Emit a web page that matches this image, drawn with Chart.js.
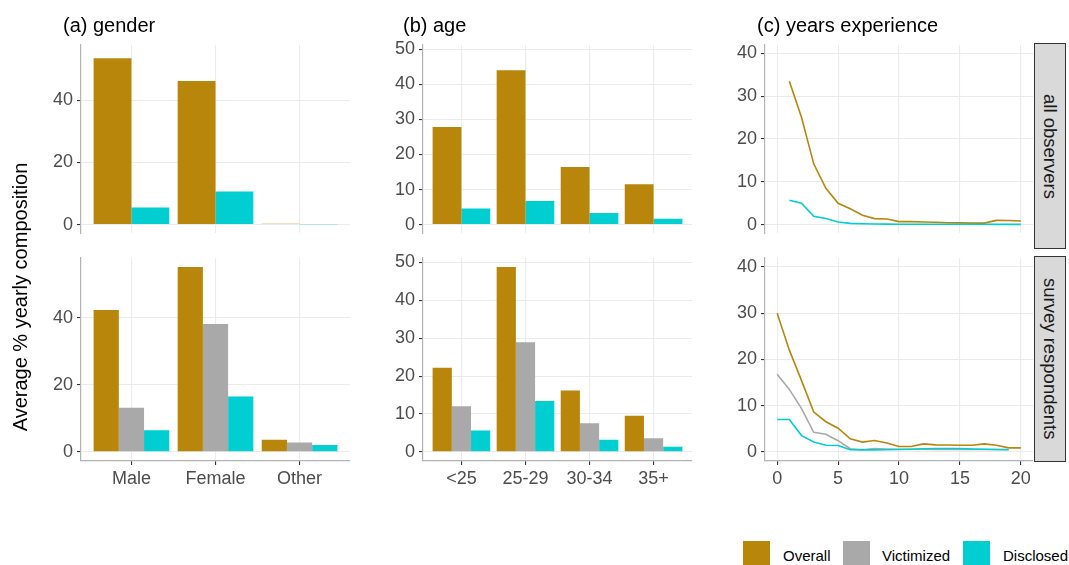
<!DOCTYPE html>
<html><head><meta charset="utf-8">
<script src="https://cdn.jsdelivr.net/npm/chart.js@4/dist/chart.umd.min.js"></script>
<style>
body{margin:0;background:#fff;width:1069px;height:565px;overflow:hidden;position:relative;font-family:"Liberation Sans",Arial,sans-serif;}
canvas{position:absolute;}
.title{position:absolute;white-space:nowrap;color:#000;font-size:20px;line-height:24px;}
.strip{position:absolute;background:#D9D9D9;border:1px solid #333333;display:flex;align-items:center;justify-content:center;}
.strip span{writing-mode:vertical-rl;font-size:18.5px;color:#1A1A1A;white-space:nowrap;}
.ytitle{position:absolute;width:400px;height:24px;line-height:24px;text-align:center;font-size:20px;color:#000;transform:rotate(-90deg);white-space:nowrap;}
.lkey{position:absolute;width:27px;height:27px;}
.ltxt{position:absolute;font-size:15px;line-height:18px;color:#000;white-space:nowrap;}
</style></head><body>

<canvas id="a1"></canvas><canvas id="a2"></canvas>
<canvas id="b1"></canvas><canvas id="b2"></canvas>
<canvas id="c1"></canvas><canvas id="c2"></canvas>

<div class="title" style="left:63px;top:13px;">(a) gender</div>
<div class="title" style="left:403px;top:13px;">(b) age</div>
<div class="title" style="left:757px;top:13px;">(c) years experience</div>
<div class="ytitle" style="left:-180px;top:285px;">Average % yearly composition</div>
<div class="strip" style="left:1034px;top:43px;width:30px;height:204px;"><span>all observers</span></div>
<div class="strip" style="left:1034px;top:256px;width:30px;height:204px;"><span>survey respondents</span></div>

<div class="lkey" style="left:743px;top:541px;background:#B8860B;"></div>
<div class="ltxt" style="left:783px;top:547px;">Overall</div>
<div class="lkey" style="left:843px;top:541px;background:#A9A9A9;"></div>
<div class="ltxt" style="left:882px;top:547px;">Victimized</div>
<div class="lkey" style="left:963px;top:541px;background:#00CED1;"></div>
<div class="ltxt" style="left:1003px;top:547px;">Disclosed</div>

<script>
// ---------- data ----------
const seriesNames = ['Overall', 'Victimized', 'Disclosed'];

const genderCats = ['Male', 'Female', 'Other'];
const genderObsOverall = [53.5, 46.2, 0.3];
const genderObsDisclosed = [5.5, 10.7, 0.1];
const genderSurvOverall = [42.3, 55.1, 3.6];
const genderSurvVictimized = [13.1, 38.1, 2.8];
const genderSurvDisclosed = [6.4, 16.5, 2.0];
const genderTicks = [0, 20, 40];

const ageCats = ['<25', '25-29', '30-34', '35+'];
const ageObsOverall = [27.8, 44.0, 16.4, 11.5];
const ageObsDisclosed = [4.6, 6.7, 3.3, 1.7];
const ageSurvOverall = [22.2, 48.8, 16.2, 9.5];
const ageSurvVictimized = [12.0, 28.9, 7.5, 3.6];
const ageSurvDisclosed = [5.6, 13.4, 3.2, 1.3];
const ageTicks = [0, 10, 20, 30, 40, 50];

const years = [0,1,2,3,4,5,6,7,8,9,10,11,12,13,14,15,16,17,18,19,20];
const expObsOverall = [null,33.5,25.0,14.2,8.5,5.0,3.7,2.2,1.4,1.3,0.7,0.7,0.6,0.55,0.45,0.4,0.35,0.35,1.0,0.95,0.85];
const expObsDisclosed = [null,5.7,5.0,1.95,1.45,0.6,0.3,0.2,0.15,0.12,0.1,0.1,0.1,0.1,0.1,0.1,0.1,0.08,0.07,0.06,0.05];
const expSurvOverall = [30.0,22.0,15.4,8.6,6.5,5.1,2.8,2.1,2.45,1.9,1.15,1.15,1.7,1.5,1.45,1.4,1.4,1.7,1.4,0.85,0.85];
const expSurvVictimized = [16.8,13.5,9.35,4.2,3.8,2.4,0.65,0.45,0.7,0.6,0.55,0.55,0.55,0.5,0.5,0.5,0.5,0.5,0.5,0.5,null];
const expSurvDisclosed = [7.0,7.0,3.5,2.1,1.4,1.35,0.45,0.4,0.4,0.45,0.5,0.55,0.65,0.7,0.7,0.7,0.6,0.55,0.5,0.45,null];
const expXTicks = [0, 5, 10, 15, 20];
const expYTicks = [0, 10, 20, 30, 40];

// ---------- styling ----------
const colors = { Overall: '#B8860B', Victimized: '#A9A9A9', Disclosed: '#00CED1' };
const FONT = '"Liberation Sans", Arial, sans-serif';
const GRID = '#EBEBEB', AXIS = '#B3B3B3', TICKC = '#333333', LABC = '#4D4D4D';
const YW = 50, PADT = 14, PADR = 4, XH = 40;

function place(cv, L, R, T, B, xH) {
  const w = R - L + YW + PADR, h = B - T + PADT + xH;
  cv.width = w; cv.height = h;
  cv.style.left = (L - YW) + 'px'; cv.style.top = (T - PADT) + 'px';
  cv.style.width = w + 'px'; cv.style.height = h + 'px';
}

function yScale(min, max, ticks) {
  return {
    min, max,
    afterBuildTicks: s => { s.ticks = ticks.map(v => ({ value: v })); },
    afterFit: s => { s.width = YW; },
    grid: { color: GRID, lineWidth: 1.1, drawTicks: true, tickLength: 4, tickColor: TICKC, tickWidth: 1.1 },
    border: { display: true, color: AXIS, width: 1.2 },
    ticks: { color: LABC, font: { size: 18, family: FONT }, padding: 4 }
  };
}

function xScale(min, max, tickVals, labelFn, bottom) {
  return {
    type: 'linear', min, max, offset: false,
    afterBuildTicks: s => { s.ticks = tickVals.map(v => ({ value: v })); },
    afterFit: s => { s.height = bottom ? XH : 0; },
    grid: { color: GRID, lineWidth: 1.1, offset: false, drawTicks: bottom, tickLength: 4, tickColor: TICKC, tickWidth: 1.1 },
    border: { display: bottom, color: AXIS, width: 1.2 },
    ticks: { display: bottom, color: LABC, font: { size: 18, family: FONT }, padding: 3,
             maxRotation: 0, autoSkip: false, callback: labelFn }
  };
}

const baseOpts = {
  responsive: false, animation: false, devicePixelRatio: 1,
  layout: { padding: { top: PADT, right: PADR, left: 0, bottom: 0 }, autoPadding: false },
  plugins: { legend: { display: false }, tooltip: { enabled: false } },
  events: []
};

function barChart(id, L, R, T, B, bottom, cats, series, yMin, yMax, yTicks) {
  const cv = document.getElementById(id);
  place(cv, L, R, T, B, bottom ? XH : 0);
  new Chart(cv, {
    type: 'bar',
    data: {
      datasets: series.map(([name, vals]) => ({
        label: name,
        data: cats.map((c, i) => ({ x: i + 1, y: vals[i] })),
        backgroundColor: colors[name], borderWidth: 0,
        categoryPercentage: 0.9, barPercentage: 1.0
      }))
    },
    options: Object.assign({}, baseOpts, {
      scales: {
        x: xScale(0.4, cats.length + 0.6, cats.map((c, i) => i + 1), v => cats[v - 1], bottom),
        y: yScale(yMin, yMax, yTicks)
      }
    })
  });
}

function lineChart(id, L, R, T, B, bottom, series) {
  const cv = document.getElementById(id);
  place(cv, L, R, T, B, bottom ? XH : 0);
  new Chart(cv, {
    type: 'line',
    data: {
      datasets: series.map(([name, vals]) => ({
        label: name,
        data: years.map((x, i) => ({ x, y: vals[i] })),
        borderColor: colors[name], borderWidth: 1.6, pointRadius: 0, tension: 0,
        fill: false, spanGaps: false, order: 2 - seriesNames.indexOf(name) + 10 * 0
      }))
    },
    options: Object.assign({}, baseOpts, {
      scales: {
        x: xScale(-1, 21, expXTicks, v => String(v), bottom),
        y: yScale(-2, 42, expYTicks)
      }
    })
  });
}

// gender: shared y range across rows (0..55.1 expanded by 5%)
barChart('a1', 81, 350, 44, 248, false, genderCats,
  [['Overall', genderObsOverall], ['Disclosed', genderObsDisclosed]], -2.755, 57.855, genderTicks);
barChart('a2', 81, 350, 257, 461, true, genderCats,
  [['Overall', genderSurvOverall], ['Victimized', genderSurvVictimized], ['Disclosed', genderSurvDisclosed]], -2.755, 57.855, genderTicks);

barChart('b1', 423, 692, 44, 248, false, ageCats,
  [['Overall', ageObsOverall], ['Disclosed', ageObsDisclosed]], -2.44, 51.24, ageTicks);
barChart('b2', 423, 692, 257, 461, true, ageCats,
  [['Overall', ageSurvOverall], ['Victimized', ageSurvVictimized], ['Disclosed', ageSurvDisclosed]], -2.44, 51.24, ageTicks);

lineChart('c1', 765, 1033, 44, 248, false,
  [['Overall', expObsOverall], ['Disclosed', expObsDisclosed]]);
lineChart('c2', 765, 1033, 257, 461, true,
  [['Overall', expSurvOverall], ['Victimized', expSurvVictimized], ['Disclosed', expSurvDisclosed]]);
</script>
</body></html>
